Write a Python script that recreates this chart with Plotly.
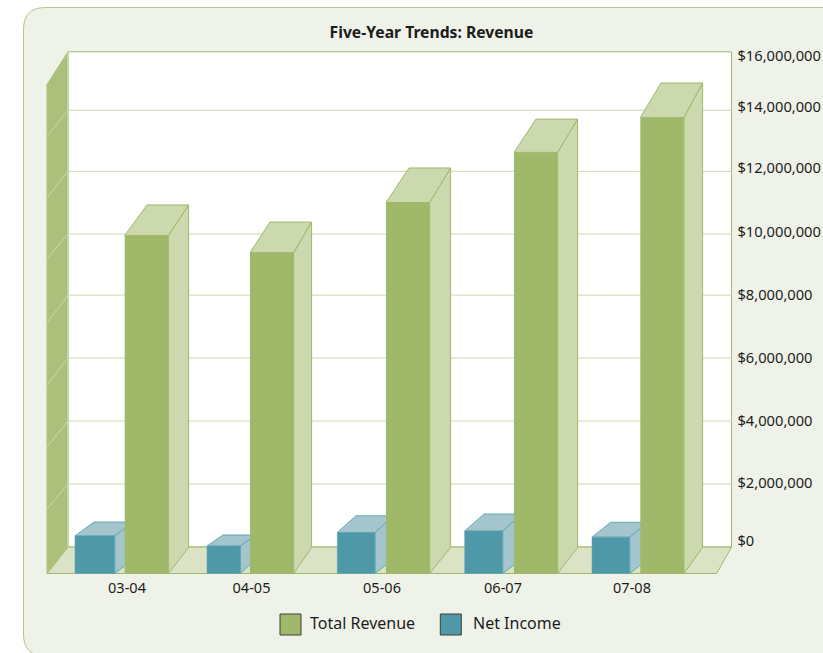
import plotly.graph_objects as go

W, H = 823, 653
FONT = "Noto Sans"
TEXT = "#1c1c1c"

categories = ["03-04", "04-05", "05-06", "06-07", "07-08"]
total_revenue = [11060000, 10500000, 12140000, 13780000, 14920000]
net_income = [1230000, 900000, 1340000, 1390000, 1190000]
# heights of each bar's rear top edge as drawn in perspective, in axis units
revenue_rear = [12060000, 11500000, 13270000, 14870000, 16050000]
income_rear = [1685000, 1260000, 1890000, 1947000, 1675000]

# horizontal slots (x axis runs 0..823)
category_centers = [127, 251.5, 382, 503, 632]
revenue_left = [124.7, 250, 386, 514, 640.3]
revenue_depth = [20.3, 18, 21, 20, 18.7]
income_left = [75, 207, 337.3, 464.7, 592]
income_width = [39.7, 33.3, 37.7, 38, 37.7]
income_depth = [19, 16, 18.7, 19.3, 18.7]
revenue_width = 43.6

tick_text = ["$0", "$2,000,000", "$4,000,000", "$6,000,000", "$8,000,000",
             "$10,000,000", "$12,000,000", "$14,000,000", "$16,000,000"]
# heights of the gridlines on the back wall and front edge of side wall, in axis units
wall_back = [867000, 2930000, 4990000, 7050000, 9110000, 11110000, 13160000, 15160000, 17070000]
wall_front = [0, 2110000, 4140000, 6170000, 8200000, 10300000, 12300000, 14300000, 16000000]
label_level = [1070000, 2970000, 4990000, 7050000, 9110000, 11170000, 13270000, 15270000, 16940000]

PX_PER_M = 30.56
BASE_PX = 573.5


def val(py):
    return (BASE_PX - py) / PX_PER_M * 1e6


y_range = [val(H), val(0)]
FLOOR = 26 / PX_PER_M * 1e6
INC_RISE = 14.5 / PX_PER_M * 1e6

GREEN = "#a0b86a"
GREEN_L = "#ccd8ae"
WALL = "#adc07b"
FLOORC = "#dbe3c7"
TEAL = "#4f98a7"
TEAL_L = "#a5c5cd"
TEAL_E = "#62a9b7"
GRID = "#ccd8ae"
PANEL = "#eff2e8"

fig = go.Figure()


def poly(xs, ys, fill, line, z, width=1):
    fig.add_trace(go.Scatter(x=xs, y=ys, mode="lines", fill="toself", fillcolor=fill,
                             line=dict(color=line, width=width), zorder=z,
                             hoverinfo="skip", showlegend=False))


X0, X1, XF = 47, 68, 731.5
XE = 716.7
# back wall, floor, side wall
poly([X1, XF, XF, X1, X1], [wall_back[0], wall_back[0], wall_back[-1], wall_back[-1], wall_back[0]],
     "#ffffff", GREEN, 0)
for lv in wall_back[1:-1]:
    fig.add_trace(go.Scatter(x=[X1, XF], y=[lv, lv], mode="lines", line=dict(color=GRID, width=1),
                             zorder=0, hoverinfo="skip", showlegend=False))
poly([X0, XE, XF, X1, X0], [0, 0, wall_back[0], wall_back[0], 0], FLOORC, GREEN, 0)
poly([X0, X1, X1, X0, X0], [0, wall_back[0], wall_back[-1], wall_front[-1], 0], WALL, WALL, 0)
for a, b in zip(wall_front[1:-1], wall_back[1:-1]):
    fig.add_trace(go.Scatter(x=[X0, X1], y=[a, b], mode="lines", line=dict(color=GRID, width=1),
                             zorder=0, hoverinfo="skip", showlegend=False))
fig.add_trace(go.Scatter(x=[X1, X1], y=[wall_back[0], wall_back[-1]], mode="lines",
                         line=dict(color=GRID, width=1.5), zorder=0, hoverinfo="skip", showlegend=False))

# net income depth faces
for lx, w, v, top_b, dx in zip(income_left, income_width, net_income, income_rear, income_depth):
    poly([lx, lx + w, lx + w + dx, lx + dx, lx], [v, v, top_b, top_b, v], TEAL_L, TEAL_E, 1)
    poly([lx + w, lx + w + dx, lx + w + dx, lx + w, lx + w], [0, INC_RISE, top_b, v, 0], TEAL_L, TEAL_E, 1)

fig.add_trace(go.Bar(x=[l + w / 2 for l, w in zip(income_left, income_width)], y=net_income,
                     width=income_width, name="Net Income", zorder=2,
                     marker=dict(color=TEAL, line=dict(color=TEAL_E, width=0.6)), showlegend=False))

# revenue depth faces
for lx, v, top_b, dx in zip(revenue_left, total_revenue, revenue_rear, revenue_depth):
    rx = lx + revenue_width
    poly([rx, rx + dx, rx + dx, rx, rx], [0, FLOOR, top_b, v, 0], GREEN_L, GREEN, 3)
    poly([lx, rx, rx + dx, lx + dx + 2, lx], [v, v, top_b, top_b, v], GREEN_L, GREEN, 3)

fig.add_trace(go.Bar(x=[l + revenue_width / 2 for l in revenue_left], y=total_revenue,
                     width=revenue_width, name="Total Revenue", zorder=4,
                     marker=dict(color=GREEN, line=dict(width=0)), showlegend=False))


def px(x):
    return x / W


def py(y):
    return 1 - y / H


L, T, R, B, r = 23.5, 7.5, 840, 656, 22
panel = (f"M {px(L)} {py(T + r)} Q {px(L)} {py(T)} {px(L + r)} {py(T)} L {px(R)} {py(T)} "
         f"L {px(R)} {py(B)} L {px(L + r)} {py(B)} Q {px(L)} {py(B)} {px(L)} {py(B - r)} Z")
shapes = [dict(type="path", xref="paper", yref="paper", path=panel, fillcolor=PANEL,
               line=dict(color="#b3c58a", width=1), layer="below")]
for x0, c in [(280, GREEN), (440.3, TEAL)]:
    shapes.append(dict(type="rect", xref="paper", yref="paper", x0=px(x0), x1=px(x0 + 21),
                       y0=py(635), y1=py(614), fillcolor=c, line=dict(color="#3a3f33", width=1)))

annotations = [
    dict(xref="paper", yref="paper", x=px(308), y=py(623), text="Total Revenue", showarrow=False,
         xanchor="left", yanchor="middle", font=dict(family=FONT, size=16, color=TEXT)),
    dict(xref="paper", yref="paper", x=px(470.5), y=py(623), text="Net Income", showarrow=False,
         xanchor="left", yanchor="middle", font=dict(family=FONT, size=16, color=TEXT)),
]

fig.update_layout(
    width=W, height=H, margin=dict(l=0, r=0, t=0, b=0), autosize=False,
    paper_bgcolor="#ffffff", plot_bgcolor="rgba(0,0,0,0)", barmode="overlay", showlegend=False,
    title=dict(text="<b>Five-Year Trends: Revenue</b>", x=431.5 / W, xanchor="center",
               y=py(33), yanchor="middle", font=dict(family=FONT, size=15.7, color=TEXT)),
    xaxis=dict(range=[0, W], domain=[0, 1], anchor="free", position=(H - BASE_PX) / H,
               tickmode="array", tickvals=category_centers, ticktext=categories, showgrid=False,
               zeroline=False, showline=False, ticks="outside", ticklen=1, tickcolor="rgba(0,0,0,0)",
               tickfont=dict(family=FONT, size=14.5, color=TEXT)),
    yaxis=dict(range=y_range, domain=[0, 1], anchor="free", position=XF / W, side="right",
               tickmode="array", tickvals=label_level, ticktext=tick_text, showgrid=False,
               zeroline=False, showline=False, ticks="outside", ticklen=2, tickcolor="rgba(0,0,0,0)",
               tickfont=dict(family=FONT, size=14.7, color=TEXT)),
    shapes=shapes, annotations=annotations,
)

fig.write_html("out.html", config=dict(displayModeBar=False),
               post_script="document.body.style.margin='0';document.documentElement.style.overflow='hidden';")
